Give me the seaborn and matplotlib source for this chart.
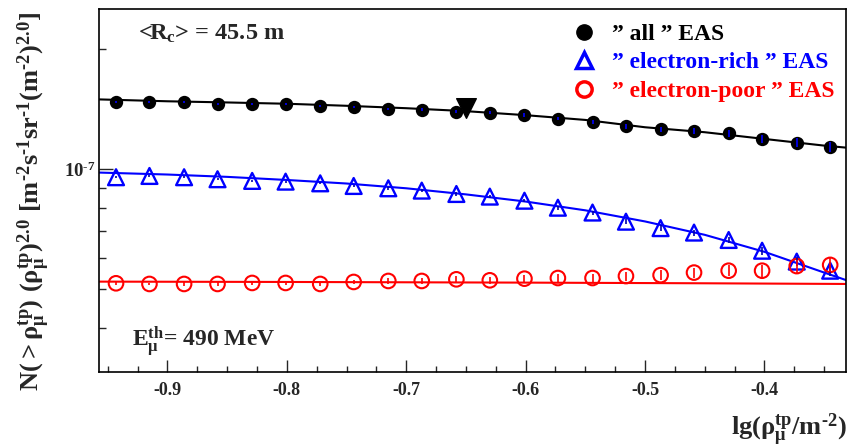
import numpy as np
import pandas as pd
import matplotlib
matplotlib.use("Agg")
import matplotlib.pyplot as plt
from matplotlib.lines import Line2D
from matplotlib.ticker import FixedLocator, MultipleLocator, NullFormatter, FixedFormatter
import seaborn as sns

# ---------------- data ----------------
x_vals = [-0.943, -0.915, -0.886, -0.858, -0.829, -0.801, -0.772, -0.744,
          -0.715, -0.687, -0.658, -0.630, -0.601, -0.573, -0.544, -0.516,
          -0.487, -0.459, -0.430, -0.402, -0.373, -0.345]

all_eas = [1.477, 1.477, 1.474, 1.460, 1.458, 1.455, 1.443, 1.433, 1.416, 1.410,
           1.394, 1.384, 1.366, 1.339, 1.316, 1.282, 1.258, 1.247, 1.231, 1.189,
           1.166, 1.139]  # x 1e-7
all_err = [0.008, 0.008, 0.008, 0.008, 0.008, 0.008, 0.008, 0.009, 0.010, 0.010,
           0.012, 0.012, 0.014, 0.014, 0.016, 0.018, 0.020, 0.022, 0.024, 0.026,
           0.029, 0.032]

rich_eas = [0.955, 0.962, 0.955, 0.944, 0.935, 0.931, 0.922, 0.908, 0.896, 0.884,
            0.867, 0.854, 0.834, 0.801, 0.779, 0.739, 0.712, 0.694, 0.665, 0.625,
            0.587, 0.557]
rich_err = [0.005, 0.005, 0.005, 0.005, 0.005, 0.006, 0.006, 0.006, 0.007, 0.007,
            0.008, 0.008, 0.008, 0.009, 0.009, 0.010, 0.011, 0.012, 0.013, 0.014,
            0.016, 0.018]

poor_eas = [0.518, 0.516, 0.516, 0.516, 0.519, 0.519, 0.516, 0.522, 0.525, 0.525,
            0.530, 0.527, 0.532, 0.534, 0.534, 0.540, 0.543, 0.551, 0.557, 0.557,
            0.572, 0.576]
poor_err = [0.004, 0.004, 0.005, 0.005, 0.006, 0.006, 0.007, 0.007, 0.008, 0.008,
            0.009, 0.010, 0.011, 0.012, 0.013, 0.014, 0.015, 0.016, 0.018, 0.019,
            0.021, 0.023]

# fitted curves
fit_x = [-0.957, -0.90, -0.85, -0.80, -0.75, -0.70, -0.65, -0.60, -0.55,
         -0.50, -0.45, -0.40, -0.35, -0.332]
fit_all = [1.496, 1.480, 1.470, 1.459, 1.442, 1.422, 1.398, 1.366, 1.329,
           1.274, 1.238, 1.191, 1.146, 1.133]
fit_rich = [0.981, 0.970, 0.957, 0.940, 0.921, 0.896, 0.865, 0.830, 0.789,
            0.740, 0.685, 0.621, 0.551, 0.528]
fit_poor_x = [-0.957, -0.80, -0.60, -0.45, -0.332]
fit_poor = [0.523, 0.522, 0.520, 0.518, 0.516]

marker_x = [-0.650]
marker_y = [1.424]

scale = 1e-7
legend_labels = ["\u201d all \u201d EAS", "\u201d electron-rich \u201d EAS",
                 "\u201d electron-poor \u201d EAS"]

# ---------------- style ----------------
sns.set_style("ticks")
plt.rcParams["font.family"] = ["Liberation Serif", "DejaVu Serif"]
plt.rcParams["font.weight"] = "bold"
plt.rcParams["mathtext.fontset"] = "custom"
plt.rcParams["mathtext.rm"] = "Liberation Serif:bold"
plt.rcParams["mathtext.it"] = "Liberation Serif:bold"
plt.rcParams["mathtext.bf"] = "Liberation Serif:bold"
plt.rcParams["mathtext.default"] = "rm"
plt.rcParams["axes.unicode_minus"] = False

W, H = 849, 447
fig = plt.figure(figsize=(W / 100, H / 100), dpi=100)
L, R, T, B = 99.3, 845.7, 9.0, 372.3
ax = fig.add_axes([L / W, 1 - B / H, (R - L) / W, (B - T) / H])

x = np.array(x_vals)
df = pd.DataFrame({
    "x": np.concatenate([x, x, x]),
    "y": np.concatenate([all_eas, rich_eas, poor_eas]) * scale,
    "err": np.concatenate([all_err, rich_err, poor_err]) * scale,
    "set": ["all"] * len(x) + ["rich"] * len(x) + ["poor"] * len(x),
})
fit_df = pd.DataFrame({"x": fit_x, "all": np.array(fit_all) * scale,
                       "rich": np.array(fit_rich) * scale})
poor_df = pd.DataFrame({"x": fit_poor_x, "poor": np.array(fit_poor) * scale})

# fitted lines
sns.lineplot(data=fit_df, x="x", y="all", color="black", lw=1.5, ax=ax,
             sort=False, estimator=None, zorder=2)
sns.lineplot(data=fit_df, x="x", y="rich", color="#0000ff", lw=1.5, ax=ax,
             sort=False, estimator=None, zorder=2)
sns.lineplot(data=poor_df, x="x", y="poor", color="#ff0000", lw=1.5, ax=ax,
             sort=False, estimator=None, zorder=2)

# markers
d_all = df[df.set == "all"]
d_rich = df[df.set == "rich"]
d_poor = df[df.set == "poor"]
sns.scatterplot(data=d_all, x="x", y="y", marker="o", s=92, color="black",
                edgecolor="black", linewidth=0, ax=ax, zorder=3)
sns.scatterplot(data=d_rich, x="x", y="y", marker="^", s=130, facecolor="none",
                edgecolor="#0000ff", linewidth=1.7, ax=ax, zorder=3)
sns.scatterplot(data=d_poor, x="x", y="y", marker="o", s=110, facecolor="none",
                edgecolor="#ff0000", linewidth=1.5, ax=ax, zorder=3)

# error bars on top
ax.errorbar(d_all.x, d_all.y, yerr=d_all.err, fmt="none", ecolor="#0000ff",
            elinewidth=1.2, capsize=0, zorder=4)
ax.errorbar(d_rich.x, d_rich.y, yerr=d_rich.err, fmt="none", ecolor="#0000aa",
            elinewidth=1.2, capsize=0, zorder=4)
ax.errorbar(d_poor.x, d_poor.y, yerr=d_poor.err, fmt="none", ecolor="#ff0000",
            elinewidth=1.2, capsize=0, zorder=4)

# the inverted triangle marker
ax.scatter(marker_x, np.array(marker_y) * scale, marker="v", s=200,
           color="black", zorder=5)

# ---------------- axes ----------------
ax.set_yscale("log")
ax.set_xlim(-0.957, -0.332)
ax.set_ylim(3.10e-8, 2.52e-7)

ax.xaxis.set_major_locator(MultipleLocator(0.1))
ax.xaxis.set_minor_locator(MultipleLocator(0.025))
ax.xaxis.set_major_formatter(matplotlib.ticker.FormatStrFormatter("%.1f"))

ax.yaxis.set_major_locator(FixedLocator([1e-7]))
ax.yaxis.set_major_formatter(FixedFormatter([r"$10^{\text{-}7}$"]))
ax.yaxis.set_minor_locator(FixedLocator([4e-8, 5e-8, 6e-8, 7e-8, 8e-8, 9e-8, 2e-7]))
ax.yaxis.set_minor_formatter(NullFormatter())

ax.tick_params(axis="x", which="major", direction="in", length=8.5, width=1.0,
               labelsize=13, pad=7, top=False)
ax.tick_params(axis="x", which="minor", direction="in", length=4.3, width=1.0, top=False)
ax.tick_params(axis="y", which="major", direction="in", length=10, width=1.0,
               labelsize=13.5, pad=3, right=False)
ax.tick_params(axis="y", which="minor", direction="in", length=5, width=1.0, right=False)
for lab in ax.get_xticklabels() + ax.get_yticklabels():
    lab.set_fontweight("bold")
for sp in ax.spines.values():
    sp.set_linewidth(1.2)
    sp.set_color("black")
ax.set_xlabel("")
ax.set_ylabel("")

# axis titles
fig.text(34 / W, 1 - 201 / H,
         r"$N(>\rho_{\mu}^{tp})\ (\rho_{\mu}^{tp})^{2.0}\ [m^{\text{-}2}s^{\text{-}1}sr^{\text{-}1}(m^{\text{-}2})^{2.0}]$",
         rotation=90, ha="center", va="center", fontsize=19)
fig.text(847 / W, 1 - 435 / H, r"$lg(\rho_{\mu}^{tp}/m^{\text{-}2})$",
         ha="right", va="baseline", fontsize=19)

# annotations
ax.text((138 - L) / (R - L), (B - 39.3) / (B - T), r"<R$_{c}$> = 45.5 m",
        transform=ax.transAxes, ha="left", va="baseline", fontsize=17.5,
        fontweight="bold")
ax.text((131.7 - L) / (R - L), (B - 346.7) / (B - T), r"E$_{\mu}^{th}$= 490 MeV",
        transform=ax.transAxes, ha="left", va="baseline", fontsize=17,
        fontweight="bold")

# legend
handles = [
    Line2D([], [], ls="none", marker="o", ms=11, color="black"),
    Line2D([], [], ls="none", marker="^", ms=12, mfc="none", mec="#0000ff", mew=2.5),
    Line2D([], [], ls="none", marker="o", ms=11, mfc="none", mec="#ff0000", mew=2.5),
]
leg = ax.legend(handles, legend_labels, loc="upper left",
                bbox_to_anchor=((573 - L) / (R - L), (B - 23.5) / (B - T)),
                frameon=False, handlelength=0.9, handletextpad=0.75,
                labelspacing=0.29, borderpad=0, borderaxespad=0,
                labelcolor=["black", "#0000ff", "#ff0000"],
                prop={"weight": "bold", "size": 17})

fig.savefig("out.png", dpi=100)
